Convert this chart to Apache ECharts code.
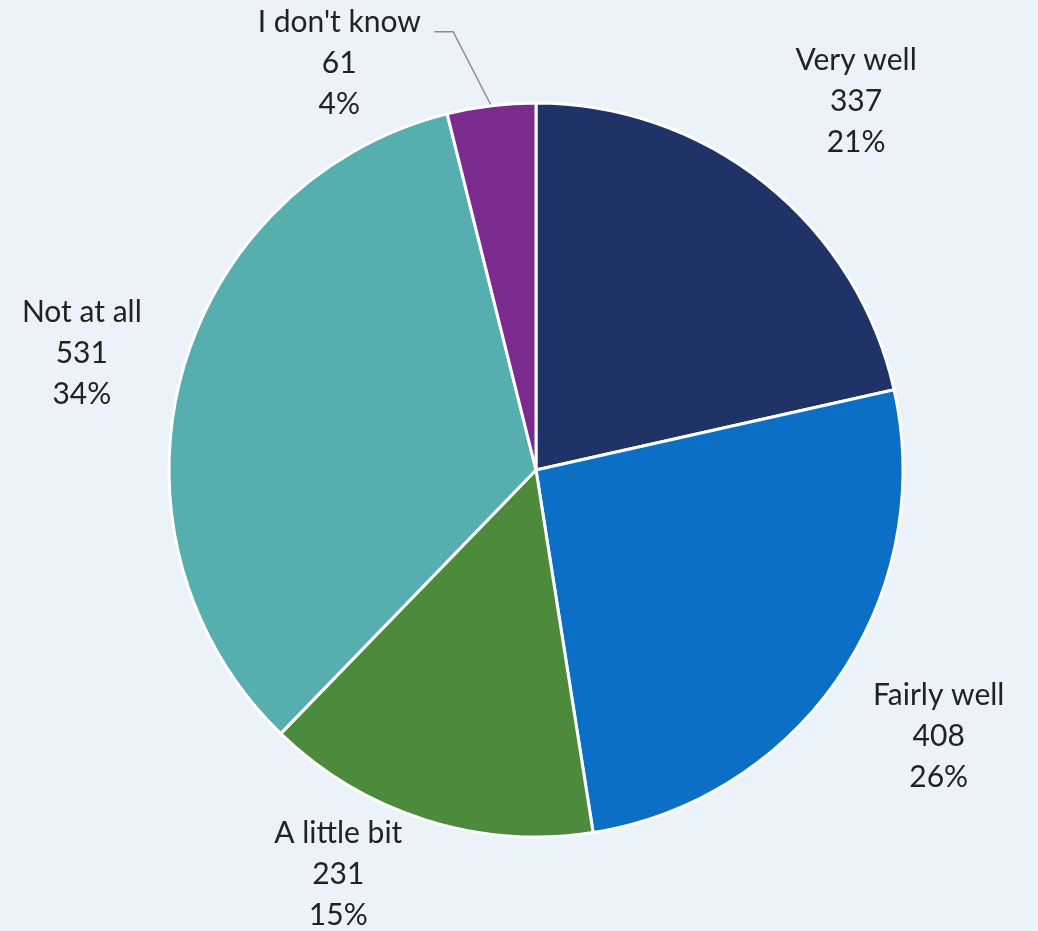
<!DOCTYPE html>
<html>
<head>
<meta charset="utf-8">
<title>Pie</title>
<script src="https://cdn.jsdelivr.net/npm/echarts@6/dist/echarts.min.js"></script>
<style>
  html, body { margin: 0; padding: 0; background: #ECF2FA; }
  #chart { width: 1038px; height: 931px; }
</style>
</head>
<body>
<div id="chart"></div>
<script>
var categories = ['Very well', 'Fairly well', 'A little bit', 'Not at all', "I don't know"];
var counts = [337, 408, 231, 531, 61];
var percents = ['21%', '26%', '15%', '34%', '4%'];
var colors = ['#1F3366', '#0B6FC6', '#4C8A3C', '#57AEAF', '#7B2A8D'];

// layout of the pie and of the labels (polar: angle nudge in degrees, distance in px)
var CENTER = [536, 470];
var RADIUS = 367;
var labelTurn = [2.3, -0.7, 8.5, -0.6, -18.8];
var labelDist = [488, 483, 450, 469, 452];

var total = counts.reduce(function (a, b) { return a + b; }, 0);
var midAngles = [];
var acc = 0;
counts.forEach(function (v) {
    var a = v / total * 360;
    midAngles.push(acc + a / 2);
    acc += a;
});

function polar(deg, dist) {
    var r = deg * Math.PI / 180;
    return [CENTER[0] + dist * Math.sin(r), CENTER[1] - dist * Math.cos(r)];
}

var pieData = categories.map(function (name, i) {
    return {
        name: name,
        value: counts[i],
        itemStyle: { color: colors[i] },
        labelLine: { show: i === 4 }
    };
});

var chart = echarts.init(document.getElementById('chart'));
chart.setOption({
    backgroundColor: '#ECF2FA',
    animation: false,
    series: [{
        type: 'pie',
        center: CENTER,
        radius: RADIUS,
        startAngle: 90,
        clockwise: true,
        avoidLabelOverlap: false,
        data: pieData,
        itemStyle: { borderColor: '#ffffff', borderWidth: 3 },
        label: {
            show: true,
            position: 'outside',
            fontFamily: 'Lato, "Open Sans", sans-serif',
            fontSize: 30,
            lineHeight: 41,
            color: '#222222',
            formatter: function (p) {
                return p.name + '\n' + counts[p.dataIndex] + '\n' + percents[p.dataIndex];
            }
        },
        labelLine: {
            show: false,
            lineStyle: { color: '#8C8C8C', width: 1.5 }
        },
        labelLayout: function (params) {
            var i = params.dataIndex;
            var pos = polar(midAngles[i] + labelTurn[i], labelDist[i]);
            var out = { x: pos[0], y: pos[1], align: 'center', verticalAlign: 'middle' };
            if (i === 4) {
                var start = polar(midAngles[i], RADIUS);
                var elbow = polar(midAngles[i] - 3.7, 446);
                out.labelLinePoints = [start, elbow, [elbow[0] - 19, elbow[1]]];
            }
            return out;
        },
        emphasis: { disabled: true }
    }]
});
</script>
</body>
</html>
